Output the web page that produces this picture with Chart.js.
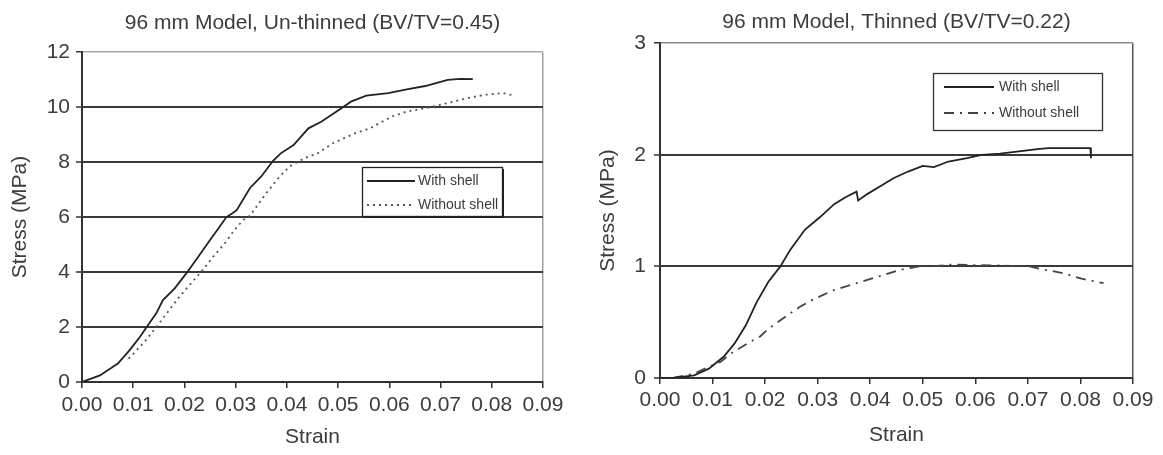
<!DOCTYPE html>
<html><head><meta charset="utf-8">
<script src="https://cdn.jsdelivr.net/npm/chart.js@4.4.1/dist/chart.umd.min.js"></script>
<style>
html,body{margin:0;padding:0;background:#fff;width:1163px;height:455px;overflow:hidden}
canvas{position:absolute;top:0}
#c1{left:0}
#c2{left:583px}
</style></head><body>
<canvas id="c1" width="580" height="455"></canvas>
<canvas id="c2" width="580" height="455"></canvas>
<script>
// ---------- data ----------
const strainTickLabels = ['0.00','0.01','0.02','0.03','0.04','0.05','0.06','0.07','0.08','0.09'];
const leftStressTickLabels = ['0','2','4','6','8','10','12'];
const rightStressTickLabels = ['0','1','2','3'];
const seriesNames = ['With shell', 'Without shell'];
const leftTitle = '96 mm Model, Un-thinned (BV/TV=0.45)';
const rightTitle = '96 mm Model, Thinned (BV/TV=0.22)';

const leftStrainWith = [0,0.0035,0.007,0.0093,0.0113,0.0129,0.0145,0.0158,0.0181,0.0204,0.0227,0.025,0.0269,0.0282,0.0293,0.0302,0.0328,0.035,0.0373,0.0388,0.0413,0.0442,0.0467,0.0508,0.0525,0.0555,0.0598,0.0634,0.067,0.0714,0.0739,0.0763];
const leftStressWith = [0,0.24,0.67,1.16,1.64,2.07,2.5,2.98,3.41,3.96,4.56,5.17,5.66,6.0,6.13,6.25,7.06,7.48,8.05,8.32,8.62,9.23,9.47,9.98,10.2,10.42,10.51,10.65,10.77,10.99,11.03,11.02];
const leftStrainWithout = [0.0091,0.0122,0.0145,0.0168,0.019,0.021,0.0236,0.0256,0.0279,0.0298,0.0315,0.0328,0.0341,0.036,0.0386,0.0406,0.0435,0.046,0.0489,0.0533,0.0562,0.0605,0.0634,0.067,0.0707,0.075,0.0786,0.0822,0.0844];
const leftStressWithout = [0.85,1.46,2.0,2.56,3.1,3.53,4.08,4.56,5.05,5.54,5.9,6.05,6.39,6.88,7.48,7.85,8.15,8.32,8.68,9.05,9.23,9.66,9.84,9.96,10.12,10.32,10.45,10.51,10.42];

const rightStrainWith = [0,0.0025,0.0065,0.0093,0.0121,0.0142,0.0163,0.0184,0.0206,0.0229,0.0248,0.0276,0.0304,0.0332,0.0353,0.0374,0.0377,0.0395,0.0416,0.0444,0.0472,0.05,0.0521,0.0549,0.0584,0.0612,0.0647,0.0683,0.0718,0.0739,0.0767,0.0819,0.082];
const rightStressWith = [0,0,0.024,0.084,0.19,0.31,0.47,0.68,0.86,1.0,1.15,1.33,1.44,1.56,1.62,1.67,1.59,1.65,1.71,1.79,1.85,1.9,1.89,1.94,1.97,2.0,2.01,2.03,2.05,2.06,2.06,2.06,1.97];
const rightStrainWithout = [0.0025,0.0065,0.0097,0.0115,0.0135,0.017,0.019,0.0206,0.0248,0.0267,0.029,0.0332,0.0374,0.0416,0.0458,0.0493,0.0528,0.0556,0.0598,0.0633,0.0668,0.0697,0.0732,0.0767,0.0802,0.0844];
const rightStressWithout = [0,0.04,0.11,0.144,0.22,0.32,0.37,0.44,0.58,0.64,0.7,0.79,0.85,0.91,0.97,1.0,1.005,1.017,1.011,1.01,1.005,1.005,0.97,0.94,0.89,0.85];

// ---------- helpers ----------
function pts(xs, ys){ return xs.map((x,i)=>({x:x, y:ys[i]})); }
const FONT = "'Liberation Sans', Arial, Helvetica, sans-serif";
const TXT = '#3c3c3c';

const boxLegend = {
  id: 'boxLegend',
  afterDatasetsDraw(chart, args, o) {
    const ctx = chart.ctx, b = o.box;
    ctx.save();
    if (o.shadow) {
      ctx.fillStyle = '#222';
      ctx.fillRect(b.x + 2, b.y + b.h, b.w, 2);
      ctx.fillRect(b.x + b.w, b.y + 2, 2, b.h);
    }
    ctx.fillStyle = '#fff';
    ctx.fillRect(b.x, b.y, b.w, b.h);
    ctx.strokeStyle = o.borderColor;
    ctx.lineWidth = 1.3;
    ctx.strokeRect(b.x + 0.5, b.y + 0.5, b.w, b.h);
    chart.data.datasets.forEach((ds, i) => {
      const y = o.rows[i];
      ctx.beginPath();
      ctx.setLineDash(ds.borderDash || []);
      ctx.strokeStyle = ds.borderColor;
      ctx.lineWidth = ds.borderWidth;
      ctx.moveTo(o.lineX[0], y); ctx.lineTo(o.lineX[1], y);
      ctx.stroke();
      ctx.setLineDash([]);
      ctx.fillStyle = TXT;
      ctx.font = '14px ' + FONT;
      ctx.textBaseline = 'middle';
      ctx.textAlign = 'left';
      ctx.fillText(ds.label, o.textX, y);
    });
    ctx.restore();
  }
};

function makeChart(id, c) {
  const yMax = Number(c.yTicks[c.yTicks.length - 1]);
  return new Chart(document.getElementById(id), {
    type: 'line',
    data: { datasets: c.datasets },
    plugins: [boxLegend],
    options: {
      responsive: false, animation: false, devicePixelRatio: 1,
      layout: { padding: { left: 0, right: c.padRight, top: 0, bottom: 0 } },
      elements: { point: { radius: 0 }, line: { tension: 0 } },
      plugins: {
        legend: { display: false },
        tooltip: { enabled: false },
        title: { display: true, text: c.title, color: TXT, fullSize: false,
                 font: { family: FONT, size: 21, weight: 'normal' }, padding: c.titlePad },
        boxLegend: c.legend
      },
      scales: {
        x: {
          type: 'linear', min: 0, max: 0.09,
          afterFit(s) { s.height = c.xHeight; },
          border: { display: true, color: '#333', width: 2 },
          grid: { display: true, drawOnChartArea: true, drawTicks: true, tickLength: 6,
                  tickColor: '#333', tickWidth: 1.5,
                  color: (ctx) => (ctx.index === ctx.scale.ticks.length - 1) ? c.rightBorder : 'rgba(0,0,0,0)',
                  lineWidth: 1.5 },
          ticks: { stepSize: 0.01, color: TXT, padding: c.xTickPad, maxRotation: 0, autoSkip: false,
                   font: { family: FONT, size: 21 },
                   callback: (v, i) => strainTickLabels[i] },
          title: { display: true, text: 'Strain', color: TXT,
                   font: { family: FONT, size: 21 }, padding: { top: 0, bottom: c.xTitlePad } }
        },
        y: {
          type: 'linear', min: 0, max: yMax,
          afterFit(s) { s.width = c.yWidth; },
          border: { display: true, color: '#333', width: 2 },
          grid: { display: true, drawOnChartArea: true, drawTicks: true, tickLength: 6,
                  tickColor: '#333', tickWidth: 1.5,
                  color: (ctx) => (ctx.tick && ctx.tick.value === yMax) ? c.topBorder : '#3a3a3a',
                  lineWidth: (ctx) => (ctx.tick && ctx.tick.value === yMax) ? 1.5 : 2 },
          ticks: { stepSize: Number(c.yTicks[1]) - Number(c.yTicks[0]), color: TXT, padding: c.yTickPad,
                   font: { family: FONT, size: 21 },
                   callback: (v, i) => c.yTicks[i] },
          title: { display: true, text: 'Stress (MPa)', color: TXT,
                   font: { family: FONT, size: 21 }, padding: { top: c.yTitlePad, bottom: 0 } }
        }
      }
    }
  });
}

makeChart('c1', {
  title: leftTitle, yTicks: leftStressTickLabels,
  padRight: 37, xHeight: 73, yWidth: 82,
  titlePad: { top: 11, bottom: 16 },
  xTickPad: 5, xTitlePad: 5, yTickPad: 6, yTitlePad: 8,
  rightBorder: '#a0a0a0', topBorder: '#a8a8a8',
  datasets: [
    { label: seriesNames[0], data: pts(leftStrainWith, leftStressWith), borderColor: '#222', borderWidth: 1.8, fill: false },
    { label: seriesNames[1], data: pts(leftStrainWithout, leftStressWithout), borderColor: '#555', borderWidth: 1.8, borderDash: [2, 4], fill: false }
  ],
  legend: { box: { x: 362, y: 167, w: 140, h: 49 }, shadow: true, borderColor: '#222',
            rows: [181, 205], lineX: [367, 415], textX: 418 }
});

makeChart('c2', {
  title: rightTitle, yTicks: rightStressTickLabels,
  padRight: 30, xHeight: 77, yWidth: 77,
  titlePad: { top: 10, bottom: 8 },
  xTickPad: 4, xTitlePad: 7, yTickPad: 8, yTitlePad: 13,
  rightBorder: '#555', topBorder: '#888',
  datasets: [
    { label: seriesNames[0], data: pts(rightStrainWith, rightStressWith), borderColor: '#222', borderWidth: 1.8, fill: false },
    { label: seriesNames[1], data: pts(rightStrainWithout, rightStressWithout), borderColor: '#444', borderWidth: 1.8, borderDash: [10, 6, 2, 6], fill: false }
  ],
  legend: { box: { x: 350, y: 73, w: 169, h: 57 }, shadow: false, borderColor: '#333',
            rows: [87, 113], lineX: [361, 411], textX: 416 }
});
</script>
</body></html>
